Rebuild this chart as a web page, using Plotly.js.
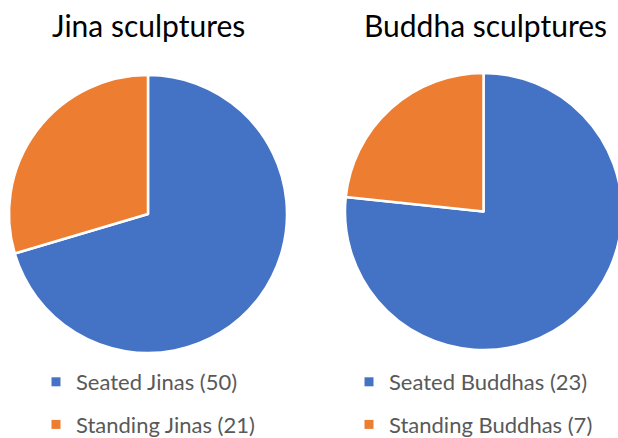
<!DOCTYPE html>
<html>
<head>
<meta charset="utf-8">
<script src="https://cdn.plot.ly/plotly-3.0.1.min.js"></script>
<style>
html,body{margin:0;padding:0;overflow:hidden;background:#fff;}
#chart{width:626px;height:438px;}
</style>
</head>
<body>
<div id="chart"></div>
<script>
const jinaLabels = ["Seated Jinas (50)", "Standing Jinas (21)"];
const jinaValues = [50, 21];
const buddhaLabels = ["Seated Buddhas (23)", "Standing Buddhas (7)"];
const buddhaValues = [23, 7];
const titles = ["Jina sculptures", "Buddha sculptures"];
const colors = ["#4472C4", "#ED7D31"];

const W = 626, H = 438;
function dom(x0, x1, y0, y1) {
  return {x: [x0 / W, x1 / W], y: [1 - y1 / H, 1 - y0 / H]};
}
const FONT = "Lato, 'Open Sans', sans-serif";

function pie(labels, values, d) {
  return {
    type: "pie",
    labels: labels,
    values: values,
    sort: false,
    direction: "clockwise",
    rotation: 0,
    textinfo: "none",
    hoverinfo: "none",
    showlegend: false,
    marker: {colors: colors, line: {color: "#ffffff", width: 2.5}},
    domain: d
  };
}

// legend entries (one per slice) so that the gap between entries can be set
function legendEntries(labels, legend, prefix) {
  return labels.map((l, i) => ({
    type: "scatter",
    mode: "markers",
    x: [null], y: [null],
    name: l,
    legend: legend,
    legendgroup: prefix + i,
    showlegend: true,
    hoverinfo: "none",
    marker: {symbol: "square", size: 9, color: colors[i]}
  }));
}

const data = [
  pie(jinaLabels, jinaValues, dom(9, 287, 75, 353)),
  pie(buddhaLabels, buddhaValues, dom(345, 622, 73, 350))
].concat(legendEntries(jinaLabels, "legend", "j"))
 .concat(legendEntries(buddhaLabels, "legend2", "b"));

const legendBase = {
  font: {family: FONT, size: 22, color: "#595959"},
  bgcolor: "rgba(0,0,0,0)",
  xanchor: "left",
  yanchor: "top",
  orientation: "v",
  traceorder: "grouped",
  tracegroupgap: 11
};

const layout = {
  width: W, height: H,
  margin: {l: 0, r: 0, t: 0, b: 0, autoexpand: false},
  paper_bgcolor: "#ffffff",
  plot_bgcolor: "rgba(0,0,0,0)",
  showlegend: true,
  xaxis: {visible: false},
  yaxis: {visible: false},
  legend: Object.assign({}, legendBase, {x: 36 / W, y: 1 - 361 / H}),
  legend2: Object.assign({}, legendBase, {x: 349 / W, y: 1 - 361 / H}),
  annotations: [
    {text: titles[0], x: 148 / W, y: 1 - 25 / H, xref: "paper", yref: "paper", showarrow: false,
     font: {family: FONT, size: 30, color: "#000000"}, xanchor: "center", yanchor: "middle"},
    {text: titles[1], x: 485 / W, y: 1 - 25 / H, xref: "paper", yref: "paper", showarrow: false,
     font: {family: FONT, size: 30, color: "#000000"}, xanchor: "center", yanchor: "middle"}
  ]
};

Plotly.newPlot("chart", data, layout, {staticPlot: true, displayModeBar: false});
</script>
</body>
</html>
